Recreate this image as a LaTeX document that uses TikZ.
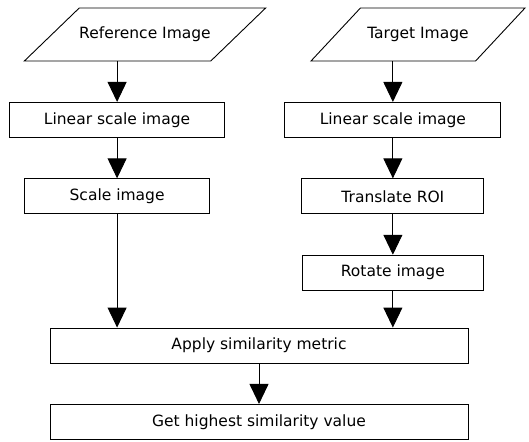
\documentclass[tikz,border=0pt]{standalone}
\usepackage{fontspec}
\setmainfont{DejaVu Sans}
\usetikzlibrary{arrows.meta,positioning,shapes.geometric}

\begin{document}
\begin{tikzpicture}[x=1pt,y=-1pt,>={Triangle[width=19pt,length=20pt]},node distance=40.5pt,
    io/.style={trapezium,trapezium left angle=44,trapezium right angle=136,trapezium stretches body=true,draw,line width=0.9pt,text height=11.5pt,text depth=3.5pt,inner xsep=0pt,inner ysep=19pt,font=\fontsize{15.5}{18}\selectfont},
    proc/.style={rectangle,draw,line width=0.9pt,minimum height=35pt,inner sep=0pt,font=\fontsize{15.5}{18}\selectfont}]
  \useasboundingbox (0,0) rectangle (529,441);
  \node[io,minimum width=240pt] (ref) at (145,34.5) {Reference Image};
  \node[io,minimum width=214pt,trapezium left angle=47,trapezium right angle=133] (tgt) at (418,34.5) {Target Image};
  \node[proc,minimum width=215pt,below=of ref.bottom side] (lin1) {Linear scale image};
  \node[proc,minimum width=185pt,below=of lin1] (scl) {Scale image};
  \node[proc,minimum width=216pt,below=of tgt.bottom side] (lin2) {Linear scale image};
  \node[proc,minimum width=182pt,below=of lin2] (trans) {Translate ROI};
  \node[proc,minimum width=181pt,below=of trans] (rot) {Rotate image};
  \node[proc,minimum width=418pt] (apply) at (259,345.5) {Apply similarity metric};
  \node[proc,minimum width=418pt,below=of apply] (best) {Get highest similarity value};
  \draw[->,line width=0.9pt] (ref.bottom side) -- (lin1);
  \draw[->,line width=0.9pt] (tgt.bottom side) -- (lin2);
  \foreach \u/\vv in {lin1/scl,lin2/trans,trans/rot,apply/best}{\draw[->,line width=0.9pt] (\u) -- (\vv);}
  \draw[->,line width=0.9pt] (scl) -- (scl |- apply.north);
  \draw[->,line width=0.9pt] (rot) -- (rot |- apply.north);
\end{tikzpicture}
\end{document}
